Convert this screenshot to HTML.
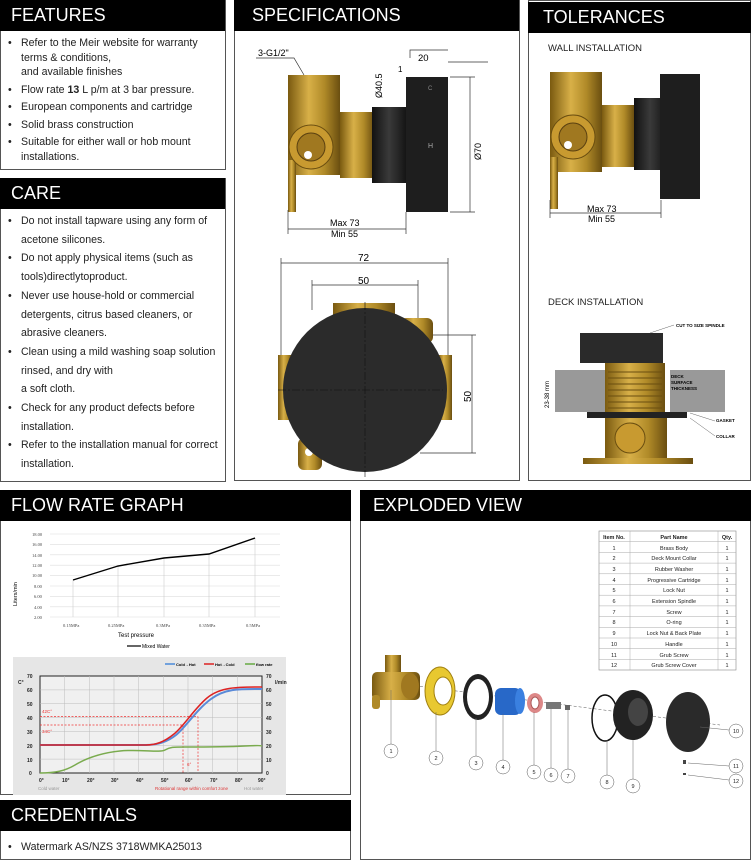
<!DOCTYPE html>
<html><head><meta charset="utf-8"><style>
body{margin:0;width:751px;height:855px;position:relative;background:#fff;font-family:"Liberation Sans",sans-serif;overflow:hidden;color:#222}
.p{position:absolute;border:1.5px solid #555;box-sizing:border-box;background:#fff}
.h{position:absolute;background:#000;color:#fff;font-size:18px;height:31px;line-height:31px;padding-left:11px;box-sizing:border-box}
ul{position:absolute;margin:0;padding:0;list-style:none;font-size:10.6px;color:#222}
li{position:relative;padding-left:21px}
li:before{content:"•";position:absolute;left:8px}
svg{position:absolute;left:0;top:0}
</style></head><body>
<div class="p" style="left:0;top:0;width:226px;height:170px"></div>
<div class="h" style="left:0;top:0;width:225px">FEATURES</div>
<ul style="left:0;top:36px;width:225px;line-height:14.5px">
<li>Refer to the Meir website for warranty terms &amp; conditions,<br>and available finishes</li>
<li style="margin-top:3px">Flow rate <b>13</b> L p/m at 3 bar pressure.</li>
<li style="margin-top:3px">European components and cartridge</li>
<li style="margin-top:3px">Solid brass construction</li>
<li style="margin-top:3px">Suitable for either wall or hob mount installations.</li>
</ul>
<div class="p" style="left:0;top:178px;width:226px;height:304px"></div>
<div class="h" style="left:0;top:178px;width:225px">CARE</div>
<ul style="left:0;top:212px;width:225px;line-height:18.7px">
<li>Do not install tapware using any form of acetone silicones.</li>
<li>Do not apply physical items (such as tools)directlytoproduct.</li>
<li>Never use house-hold or commercial detergents, citrus based cleaners, or abrasive cleaners.</li>
<li>Clean using a mild washing soap solution rinsed, and dry with<br>a soft cloth.</li>
<li>Check for any product defects before installation.</li>
<li>Refer to the installation manual for correct installation.</li>
</ul>
<div class="p" style="left:234px;top:0;width:286px;height:481px"></div>
<div class="h" style="left:234px;top:0;width:285px;padding-left:18px">SPECIFICATIONS</div>
<div class="p" style="left:528px;top:0;width:223px;height:481px"></div>
<div class="h" style="left:528px;top:2px;width:223px;padding-left:15px">TOLERANCES</div>
<div class="p" style="left:0;top:490px;width:351px;height:305px"></div>
<div class="h" style="left:0;top:490px;width:351px">FLOW RATE GRAPH</div>
<div class="p" style="left:0;top:800px;width:351px;height:60px"></div>
<div class="h" style="left:0;top:800px;width:351px">CREDENTIALS</div>
<ul style="left:0;top:841px;font-size:10.6px"><li>Watermark AS/NZS 3718WMKA25013</li></ul>
<div class="p" style="left:360px;top:490px;width:391px;height:370px"></div>
<div class="h" style="left:360px;top:490px;width:391px;padding-left:13px">EXPLODED VIEW</div>

<svg width="751" height="855" viewBox="0 0 751 855" font-family="Liberation Sans, sans-serif">
<defs>
<linearGradient id="br" x1="0" x2="1"><stop offset="0" stop-color="#7a5a10"/><stop offset=".4" stop-color="#d8b048"/><stop offset=".7" stop-color="#b08a28"/><stop offset="1" stop-color="#6a4e10"/></linearGradient>
<linearGradient id="bk" x1="0" x2="1"><stop offset="0" stop-color="#111"/><stop offset=".5" stop-color="#3a3a3a"/><stop offset="1" stop-color="#151515"/></linearGradient>
</defs>
<!-- spec side view -->
<g id="side">
<rect x="288" y="75" width="52" height="100" fill="url(#br)"/>
<rect x="288" y="160" width="8" height="52" fill="url(#br)"/>
<rect x="340" y="112" width="34" height="66" fill="url(#br)"/>
<circle cx="311" cy="147" r="22" fill="#c89a30" stroke="#6a4e10"/>
<circle cx="311" cy="147" r="14" fill="#a07820" stroke="#5a4010"/>
<circle cx="308" cy="155" r="4" fill="#fff"/>
<rect x="372" y="107" width="34" height="76" fill="url(#bk)"/>
<rect x="406" y="77" width="42" height="135" fill="#1e1e1e"/>
<text x="428" y="90" fill="#888" font-size="6">C</text><text x="428" y="148" fill="#aaa" font-size="7">H</text>
</g>
<g stroke="#333" stroke-width=".7" fill="none">
<path d="M256 58h38l10 17"/><path d="M410 58v-8h38"/><path d="M448 62h40M470 77v135M450 77h25M450 212h25M288 229h118M288 210v24M406 212v22"/>
<path d="M281 263h167M281 258v140M448 258v140M312 285h106M312 280v30M418 280v55M472 335v118M420 335h56M420 453h56"/>
</g>
<text x="258" y="56" font-size="9">3-G1/2"</text>
<text x="418" y="61" font-size="9.5">20</text><text x="398" y="72" font-size="8">1</text>
<text x="382" y="98" font-size="9" transform="rotate(-90 382 98)">Ø40.5</text>
<text x="481" y="160" font-size="9" transform="rotate(-90 481 160)">Ø70</text>
<text x="330" y="226" font-size="9">Max 73</text><text x="331" y="237" font-size="9">Min 55</text>
<text x="358" y="261" font-size="10">72</text><text x="358" y="284" font-size="10">50</text>
<text x="471" y="402" font-size="10" transform="rotate(-90 471 402)">50</text>
<!-- bottom view -->
<rect x="333" y="303" width="62" height="20" fill="url(#br)"/>
<rect x="278" y="355" width="14" height="65" fill="url(#br)"/>
<rect x="438" y="355" width="14" height="65" fill="url(#br)"/>
<rect x="400" y="318" width="33" height="25" rx="6" fill="url(#br)"/>
<rect x="298" y="438" width="24" height="32" rx="6" fill="url(#br)"/>
<circle cx="309" cy="452" r="4" fill="#fff"/>
<circle cx="365" cy="390" r="82" fill="#2b2b2b"/>
<path d="M278 390h165M365 302v175" stroke="#111" stroke-width=".6" stroke-dasharray="8 2 2 2"/>
<!-- tolerances wall -->
<g transform="translate(262,-3) scale(1)">
<rect x="288" y="75" width="52" height="100" fill="url(#br)"/>
<rect x="288" y="160" width="8" height="52" fill="url(#br)"/>
<rect x="340" y="108" width="32" height="62" fill="url(#br)"/>
<circle cx="311" cy="140" r="22" fill="#c89a30" stroke="#6a4e10"/>
<circle cx="311" cy="140" r="14" fill="#a07820" stroke="#5a4010"/>
<circle cx="306" cy="148" r="4" fill="#fff"/>
<rect x="372" y="101" width="32" height="72" fill="url(#bk)"/>
<rect x="398" y="77" width="40" height="125" fill="#1e1e1e"/>
</g>
<path d="M550 213h111M550 200v18M661 200v18" stroke="#333" stroke-width=".7"/>
<text x="587" y="212" font-size="9">Max 73</text><text x="588" y="222" font-size="9">Min 55</text>
<text x="548" y="51" font-size="9.5" fill="#222">WALL INSTALLATION</text>
<text x="548" y="305" font-size="9.5" fill="#222">DECK INSTALLATION</text>
<!-- deck -->
<rect x="580" y="333" width="83" height="30" fill="#2a2a2a"/>
<rect x="555" y="370" width="50" height="42" fill="#999"/><rect x="670" y="370" width="55" height="42" fill="#999"/>
<rect x="605" y="363" width="60" height="60" fill="url(#br)"/>
<path d="M608 372h54M608 378h54M608 384h54M608 390h54M608 396h54M608 402h54M608 408h54" stroke="#6a4e10" stroke-width="1"/>
<rect x="587" y="412" width="100" height="6" fill="#222"/>
<rect x="605" y="418" width="62" height="40" fill="url(#br)"/>
<circle cx="630" cy="438" r="15" fill="#c89a30" stroke="#6a4e10"/>
<rect x="583" y="458" width="110" height="6" fill="url(#br)"/>
<text x="671" y="378" font-size="4.5" font-weight="bold">DECK</text><text x="671" y="384" font-size="4.5" font-weight="bold">SURFACE</text><text x="671" y="390" font-size="4.5" font-weight="bold">THICKNESS</text>
<text x="676" y="327" font-size="4.5" font-weight="bold">CUT TO SIZE SPINDLE</text>
<text x="716" y="422" font-size="4.5" font-weight="bold">GASKET</text><text x="716" y="438" font-size="4.5" font-weight="bold">COLLAR</text>
<text x="549" y="408" font-size="6" transform="rotate(-90 549 408)">23-38 mm</text>
<path d="M650 333l24-8M690 413l25 8M690 418l25 18" stroke="#666" stroke-width=".5"/>
<!-- chart1 -->
<rect x="13" y="527" width="273" height="130" fill="#fff"/>
<g stroke="#ddd" stroke-width=".6">
<path d="M50 534h230M50 544.4h230M50 554.8h230M50 565.2h230M50 575.6h230M50 586h230M50 596.4h230M50 606.8h230M50 617h230"/>
<path d="M73 580v37M118 566v51M164 558v59M209 554v63M255 538v79" stroke="#ccc"/>
</g>
<g font-size="4.5" fill="#444" font-family="Liberation Serif,serif">
<text x="32" y="536">18.00</text><text x="32" y="546">16.00</text><text x="32" y="557">14.00</text><text x="32" y="567">12.00</text><text x="32" y="577">10.00</text><text x="34" y="588">8.00</text><text x="34" y="598">6.00</text><text x="34" y="609">4.00</text><text x="34" y="619">2.00</text>
<text x="63" y="627">0.15MPa</text><text x="108" y="627">0.25MPa</text><text x="156" y="627">0.3MPa</text><text x="199" y="627">0.35MPa</text><text x="246" y="627">0.5MPa</text>
</g>
<text x="118" y="637" font-size="6">Test pressure</text>
<text x="17" y="606" font-size="5.5" transform="rotate(-90 17 606)">Liters/min</text>
<path d="M127 646h14" stroke="#000" stroke-width="1.2"/><text x="142" y="648" font-size="5">Mixed Water</text>
<polyline points="73,580 118,566 164,558 209,554 255,538" fill="none" stroke="#000" stroke-width="1.4"/>
<!-- chart2 -->
<rect x="13" y="657" width="273" height="138" fill="#e6e6e6"/>
<rect x="40" y="676" width="222" height="97" fill="#f0f0f0" stroke="#222" stroke-width="1"/>
<g stroke="#bbb" stroke-width=".5">
<path d="M40 689.9h222M40 703.7h222M40 717.6h222M40 731.4h222M40 745.3h222M40 759.1h222"/>
<path d="M64.7 676v97M89.3 676v97M114 676v97M138.7 676v97M163.3 676v97M188 676v97M212.7 676v97M237.3 676v97"/>
</g>
<g font-size="5" font-weight="bold" fill="#222">
<text x="27" y="678">70</text><text x="27" y="692">60</text><text x="27" y="706">50</text><text x="27" y="720">40</text><text x="27" y="734">30</text><text x="27" y="748">20</text><text x="27" y="762">10</text><text x="29" y="775">0</text>
<text x="266" y="678">70</text><text x="266" y="692">60</text><text x="266" y="706">50</text><text x="266" y="720">40</text><text x="266" y="734">30</text><text x="266" y="748">20</text><text x="266" y="762">10</text><text x="266" y="775">0</text>
<text x="39" y="782">0°</text><text x="62" y="782">10°</text><text x="87" y="782">20°</text><text x="111" y="782">30°</text><text x="136" y="782">40°</text><text x="161" y="782">50°</text><text x="185" y="782">60°</text><text x="210" y="782">70°</text><text x="235" y="782">80°</text><text x="258" y="782">90°</text>
<text x="18" y="684">C°</text><text x="275" y="684">l/min</text>
</g>
<text x="38" y="790" font-size="4.5" fill="#999">Cold water</text><text x="155" y="790" font-size="4.5" fill="#d33">Rotational range within comfort zone</text><text x="244" y="790" font-size="4.5" fill="#999">Hot water</text>
<g font-size="4" font-weight="bold"><path d="M165 664h10" stroke="#4a8ad8" stroke-width="1.5"/><text x="176" y="666">Cold→Hot</text><path d="M204 664h10" stroke="#d22" stroke-width="1.5"/><text x="215" y="666">Hot→Cold</text><path d="M245 664h10" stroke="#6a4" stroke-width="1.5"/><text x="256" y="666">flow rate</text></g>
<path d="M40 716.5h158M40 725h142M183 725v48M198 716.5v56" stroke="#e33" stroke-width=".7" stroke-dasharray="2 1.5" fill="none"/>
<text x="42" y="713" font-size="4.5" fill="#e33">42C°</text><text x="42" y="733" font-size="4.5" fill="#e33">34C°</text><text x="187" y="766" font-size="4.5" fill="#e33">6°</text>
<path d="M40 773c15 0 25-2 35-8s25-12 45-14 40 2 45-1 8-3 20-3 40 0 60-1 15 0 17 0" fill="none" stroke="#7aab4e" stroke-width="1.5"/>
<path d="M40 745h106c10 0 20-2 30-10s20-25 35-36 30-10 51-10" fill="none" stroke="#5a8ad8" stroke-width="2"/>
<path d="M40 745h106c10 0 18-3 28-11s20-25 33-36 30-11 55-11" fill="none" stroke="#d22" stroke-width="1.5"/>
<!-- exploded table -->
<g font-size="5.5" fill="#222" text-anchor="middle">
<rect x="599" y="531" width="137" height="139" fill="#fff" stroke="#888" stroke-width=".6"/>
<g stroke="#aaa" stroke-width=".5">
<path d="M630 531v139M718 531v139M599 541.7h137M599 552.4h137M599 563.1h137M599 573.8h137M599 584.5h137M599 595.2h137M599 605.9h137M599 616.6h137M599 627.3h137M599 638h137M599 648.7h137M599 659.4h137"/>
</g>
<text x="614" y="539" font-weight="bold">Item No.</text><text x="674" y="539" font-weight="bold">Part Name</text><text x="727" y="539" font-weight="bold">Qty.</text>
<text x="614" y="550">1</text><text x="674" y="550">Brass Body</text>
<text x="614" y="560">2</text><text x="674" y="560">Deck Mount Collar</text>
<text x="614" y="571">3</text><text x="674" y="571">Rubber Washer</text>
<text x="614" y="582">4</text><text x="674" y="582">Progressive Cartridge</text>
<text x="614" y="592">5</text><text x="674" y="592">Lock Nut</text>
<text x="614" y="603">6</text><text x="674" y="603">Extension Spindle</text>
<text x="614" y="614">7</text><text x="674" y="614">Screw</text>
<text x="614" y="624">8</text><text x="674" y="624">O-ring</text>
<text x="614" y="635">9</text><text x="674" y="635">Lock Nut &amp; Back Plate</text>
<text x="614" y="646">10</text><text x="674" y="646">Handle</text>
<text x="614" y="657">11</text><text x="674" y="657">Grub Screw</text>
<text x="614" y="667">12</text><text x="674" y="667">Grub Screw Cover</text>
<g><text x="727" y="550">1</text><text x="727" y="560">1</text><text x="727" y="571">1</text><text x="727" y="582">1</text><text x="727" y="592">1</text><text x="727" y="603">1</text><text x="727" y="614">1</text><text x="727" y="624">1</text><text x="727" y="635">1</text><text x="727" y="646">1</text><text x="727" y="657">1</text><text x="727" y="667">1</text></g>
</g>
<!-- exploded parts -->
<path d="M410 685L720 725" stroke="#555" stroke-width=".5" stroke-dasharray="3 2"/>
<rect x="385" y="655" width="16" height="20" fill="url(#br)"/>
<rect x="372" y="672" width="48" height="28" rx="5" fill="url(#br)"/>
<ellipse cx="410" cy="686" rx="9" ry="13" fill="#a07820"/>
<rect x="372" y="695" width="8" height="14" rx="3" fill="#b08a28"/>
<ellipse cx="440" cy="691" rx="15" ry="24" fill="#e8c830" stroke="#a08010"/><ellipse cx="443" cy="691" rx="9" ry="14" fill="#fff" stroke="#a08010"/>
<ellipse cx="478" cy="697" rx="15" ry="23" fill="#222"/><ellipse cx="478" cy="697" rx="11" ry="18" fill="#fff"/>
<rect x="495" y="688" width="26" height="27" rx="6" fill="#2868c8"/><ellipse cx="520" cy="701" rx="5" ry="13" fill="#3a80e0"/>
<ellipse cx="535" cy="703" rx="8" ry="10" fill="#d88"/><ellipse cx="535" cy="703" rx="4" ry="6" fill="#fff" stroke="#a55"/>
<rect x="546" y="702" width="15" height="7" fill="#777"/><rect x="565" y="705" width="5" height="5" fill="#666"/>
<ellipse cx="605" cy="718" rx="13" ry="23" fill="none" stroke="#111" stroke-width="1.5"/>
<ellipse cx="633" cy="715" rx="20" ry="25" fill="#222"/><ellipse cx="638" cy="712" rx="10" ry="14" fill="#444"/>
<ellipse cx="688" cy="722" rx="22" ry="30" fill="#2a2a2a"/>
<rect x="683" y="760" width="3" height="4" fill="#444"/><rect x="683" y="773" width="3" height="2" fill="#444"/>
<g stroke="#666" stroke-width=".5" fill="none">
<path d="M391 690v54M436 712v39M476 718v38M503 714v46M534 712v53M551 709v59M568 709v60M607 740v35M633 740v39M700 727l29 3M688 763l41 3M688 775l41 5"/>
</g>
<g font-size="5.5" text-anchor="middle" fill="#222" stroke="#555" stroke-width=".5">
<circle cx="391" cy="751" r="7" fill="#fff"/><circle cx="436" cy="758" r="7" fill="#fff"/><circle cx="476" cy="763" r="7" fill="#fff"/><circle cx="503" cy="767" r="7" fill="#fff"/><circle cx="534" cy="772" r="7" fill="#fff"/><circle cx="551" cy="775" r="7" fill="#fff"/><circle cx="568" cy="776" r="7" fill="#fff"/><circle cx="607" cy="782" r="7" fill="#fff"/><circle cx="633" cy="786" r="7" fill="#fff"/><circle cx="736" cy="731" r="7" fill="#fff"/><circle cx="736" cy="766" r="7" fill="#fff"/><circle cx="736" cy="781" r="7" fill="#fff"/>
</g>
<g font-size="5.5" text-anchor="middle" fill="#222">
<text x="391" y="753">1</text><text x="436" y="760">2</text><text x="476" y="765">3</text><text x="503" y="769">4</text><text x="534" y="774">5</text><text x="551" y="777">6</text><text x="568" y="778">7</text><text x="607" y="784">8</text><text x="633" y="788">9</text><text x="736" y="733">10</text><text x="736" y="768">11</text><text x="736" y="783">12</text>
</g>
</svg>
</body></html>
